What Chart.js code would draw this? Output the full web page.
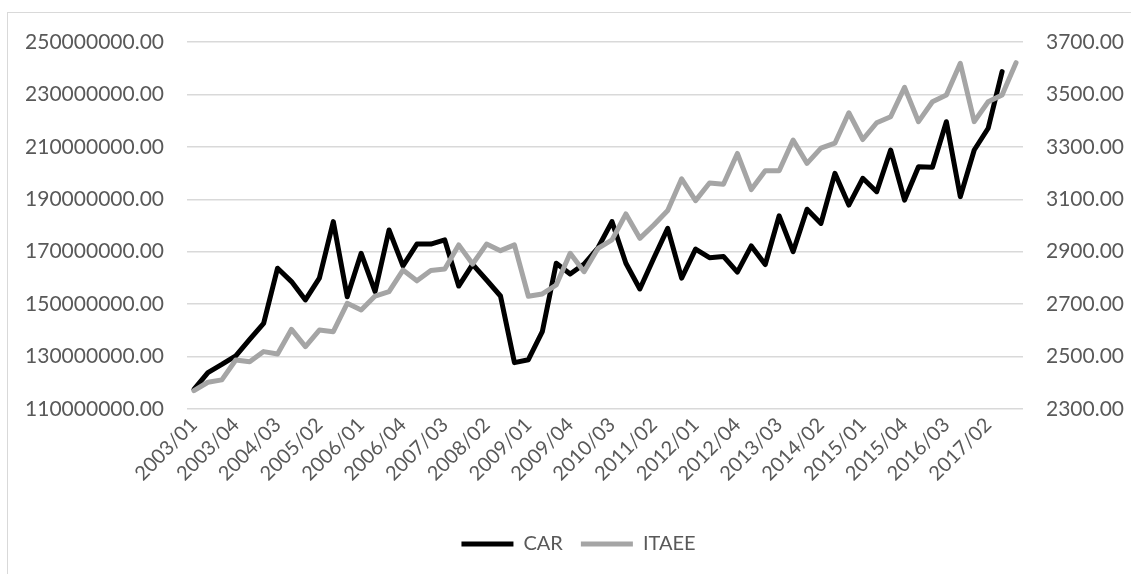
<!DOCTYPE html>
<html>
<head>
<meta charset="utf-8">
<script src="https://cdn.jsdelivr.net/npm/chart.js@4.4.1/dist/chart.umd.min.js"></script>
<style>
  html, body { margin: 0; padding: 0; background: #ffffff; overflow: hidden; }
  #wrap { position: relative; width: 1131px; height: 574px; overflow: hidden; }
  #frame { position: absolute; left: 7px; top: 12px; width: 1200px; height: 700px;
           border: 1.5px solid #d9d9d9; box-sizing: border-box; }
  #c { position: absolute; left: 0; top: 0; }
</style>
</head>
<body>
<div id="wrap">
  <div id="frame"></div>
  <canvas id="c" width="1131" height="574"></canvas>
</div>
<script>
// Quarterly periods, 2003/01 through 2017/04
const quarters = [
  '2003/01','2003/02','2003/03','2003/04',
  '2004/01','2004/02','2004/03','2004/04',
  '2005/01','2005/02','2005/03','2005/04',
  '2006/01','2006/02','2006/03','2006/04',
  '2007/01','2007/02','2007/03','2007/04',
  '2008/01','2008/02','2008/03','2008/04',
  '2009/01','2009/02','2009/03','2009/04',
  '2010/01','2010/02','2010/03','2010/04',
  '2011/01','2011/02','2011/03','2011/04',
  '2012/01','2012/02','2012/03','2012/04',
  '2013/01','2013/02','2013/03','2013/04',
  '2014/01','2014/02','2014/03','2014/04',
  '2015/01','2015/02','2015/03','2015/04',
  '2016/01','2016/02','2016/03','2016/04',
  '2017/01','2017/02','2017/03','2017/04'
];

// CAR (left axis)
const carValues = [
  117500000, 123900000, 127000000, 130300000, 136600000, 142700000, 163700000, 158600000,
  151600000, 159900000, 181500000, 152800000, 169400000, 154800000, 178300000, 164600000,
  172900000, 172900000, 174500000, 156900000, 165200000, 159200000, 153100000, 127700000,
  128800000, 139500000, 165600000, 161500000, 165300000, 171500000, 181500000, 165600000,
  155800000, 167500000, 178900000, 159900000, 171000000, 167700000, 168200000, 162200000,
  172200000, 165100000, 183700000, 170000000, 186200000, 180800000, 199900000, 187800000,
  198000000, 192900000, 208800000, 189700000, 202400000, 202200000, 219600000, 191000000,
  208800000, 217100000, 238700000
];

// ITAEE (right axis)
const itaeeValues = [
  2370, 2402, 2411, 2487, 2480, 2519, 2510, 2604,
  2538, 2601, 2595, 2703, 2678, 2731, 2748, 2830,
  2789, 2828, 2834, 2926, 2853, 2929, 2904, 2926,
  2730, 2739, 2773, 2894, 2824, 2913, 2945, 3044,
  2951, 3002, 3057, 3178, 3095, 3162, 3157, 3275,
  3137, 3209, 3209, 3326, 3237, 3295, 3314, 3430,
  3328, 3392, 3415, 3527, 3396, 3472, 3498, 3619,
  3396, 3472, 3498, 3621
];

// Axis ranges and tick steps
const leftAxisRange = [110000000, 250000000];
const leftAxisStep = 20000000;
const rightAxisRange = [2300, 3700];
const rightAxisStep = 200;
const labelEvery = 3;

const textColor = '#595959';
const gridColor = '#d9d9d9';

Chart.defaults.font.family = 'Lato, "Open Sans", sans-serif';
Chart.defaults.font.size = 20;
Chart.defaults.color = textColor;

new Chart(document.getElementById('c'), {
  type: 'line',
  data: {
    labels: quarters,
    datasets: [
      {
        label: 'CAR',
        data: carValues,
        yAxisID: 'yLeft',
        borderColor: '#000000',
        backgroundColor: '#000000',
        borderWidth: 5,
        borderCapStyle: 'round',
        borderJoinStyle: 'round',
        pointRadius: 0,
        tension: 0,
        order: 1
      },
      {
        label: 'ITAEE',
        data: itaeeValues,
        yAxisID: 'yRight',
        borderColor: '#a5a5a5',
        backgroundColor: '#a5a5a5',
        borderWidth: 5,
        borderCapStyle: 'round',
        borderJoinStyle: 'round',
        pointRadius: 0,
        tension: 0,
        order: 0
      }
    ]
  },
  options: {
    responsive: false,
    animation: false,
    devicePixelRatio: 1,
    layout: { padding: { top: 42, left: 26, right: 0, bottom: 10 } },
    plugins: {
      tooltip: { enabled: false },
      legend: {
        position: 'bottom',
        labels: {
          usePointStyle: true,
          pointStyle: 'line',
          pointStyleWidth: 52,
          padding: 18,
          color: textColor,
          font: { size: 20 },
          sort: (a, b) => a.datasetIndex - b.datasetIndex
        }
      }
    },
    scales: {
      x: {
        type: 'category',
        offset: true,
        grid: { display: false, drawTicks: false },
        border: { display: false },
        ticks: {
          autoSkip: false,
          minRotation: 45,
          maxRotation: 45,
          padding: 4,
          color: textColor,
          callback: function (value, index) {
            return index % labelEvery === 0 ? quarters[index] : '';
          }
        },
        afterFit: (scale) => { scale.height = 107; }
      },
      yLeft: {
        position: 'left',
        min: leftAxisRange[0],
        max: leftAxisRange[1],
        grid: { color: gridColor, lineWidth: 1.5, drawTicks: false },
        border: { display: false },
        ticks: {
          stepSize: leftAxisStep,
          padding: 23,
          color: textColor,
          font: { size: 21 },
          callback: (v) => Number(v).toFixed(2)
        },
        afterFit: (scale) => { scale.width = 161; }
      },
      yRight: {
        position: 'right',
        min: rightAxisRange[0],
        max: rightAxisRange[1],
        grid: { drawOnChartArea: false, drawTicks: false },
        border: { display: false },
        ticks: {
          stepSize: rightAxisStep,
          padding: 23,
          color: textColor,
          font: { size: 21 },
          callback: (v) => Number(v).toFixed(2)
        },
        afterFit: (scale) => { scale.width = 108; }
      }
    }
  }
});
</script>
</body>
</html>
